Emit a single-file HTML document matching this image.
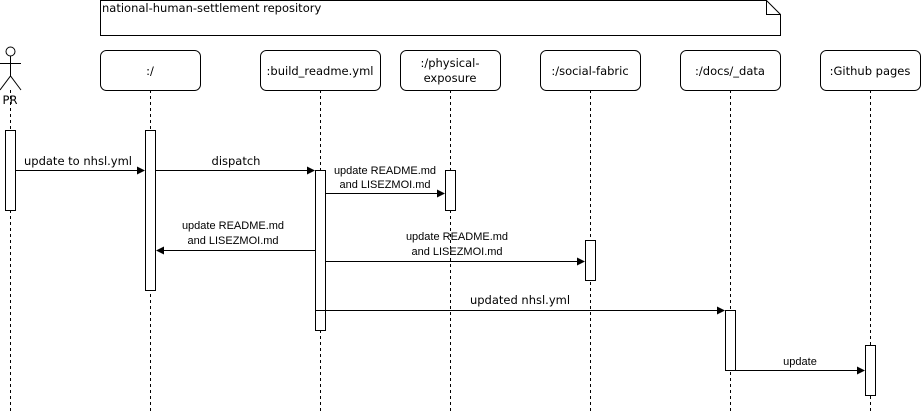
<!DOCTYPE html>
<html><head><style>body{margin:0;background:#fff}svg{display:block}</style></head><body>
<svg width="921" height="411" xmlns="http://www.w3.org/2000/svg" font-family="DejaVu Sans, sans-serif" font-size="11.5">
<g fill="none" stroke="#000" stroke-width="1">
<path d="M100.5 0.5H766.5L780.5 14.5V35.5H100.5Z" fill="#fff"/>
<path d="M766.5 0.5V14.5H780.5"/>
<rect x="100.5" y="50.5" width="100" height="40" rx="6" fill="#fff"/>
<rect x="260.5" y="50.5" width="120" height="40" rx="6" fill="#fff"/>
<rect x="400.5" y="50.5" width="100" height="40" rx="6" fill="#fff"/>
<rect x="540.5" y="50.5" width="100" height="40" rx="6" fill="#fff"/>
<rect x="680.5" y="50.5" width="100" height="40" rx="6" fill="#fff"/>
<rect x="820.5" y="50.5" width="100" height="40" rx="6" fill="#fff"/>
<g stroke-dasharray="3 3">
<path d="M10.5 90V411M150.5 90V411M320.5 90V411M450.5 90V411M590.5 90V411M730.5 90V411M870.5 90V411"/>
</g>
<circle cx="10.5" cy="51.5" r="4.5" fill="#fff"/>
<path d="M10.5 56V76M0 63.5H21M0 90L10.5 76L21 90"/>
<rect x="5.5" y="130.5" width="10" height="80" fill="#fff"/>
<rect x="145.5" y="130.5" width="10" height="160" fill="#fff"/>
<rect x="315.5" y="170.5" width="10" height="160" fill="#fff"/>
<rect x="445.5" y="170.5" width="10" height="40" fill="#fff"/>
<rect x="585.5" y="240.5" width="10" height="40" fill="#fff"/>
<rect x="725.5" y="310.5" width="10" height="60" fill="#fff"/>
<rect x="865.5" y="345.5" width="10" height="50" fill="#fff"/>
<path d="M15.5 170.5H138M155.5 170.5H308M325.5 193.5H438M315.5 250.5H163M325.5 261.5H578M315.5 310.5H718M735.5 370.5H858"/>
</g>
<g fill="#000">
<path d="M145 170.5l-8-4v8zM315 170.5l-8-4v8zM445 193.5l-8-4v8zM156 250.5l8-4v8zM585 261.5l-8-4v8zM725 310.5l-8-4v8zM865 370.5l-8-4v8z"/>
</g>
<g fill="#000" text-anchor="middle">
<text x="102" y="12" text-anchor="start">national-human-settlement repository</text>
<text x="150" y="75">:/</text>
<text x="320" y="75">:build_readme.yml</text>
<text x="450" y="67">:/physical-</text>
<text x="450" y="82">exposure</text>
<text x="590" y="75">:/social-fabric</text>
<text x="730" y="75">:/docs/_data</text>
<text x="870" y="75">:Github pages</text>
<text x="10" y="104">PR</text>
<text x="78" y="165">update to nhsl.yml</text>
<text x="236" y="165">dispatch</text>
<g font-family="Liberation Sans, sans-serif" font-size="11">
<text x="233" y="229">update README.md</text>
<text x="233" y="244">and LISEZMOI.md</text>
<text x="385" y="174">update README.md</text>
<text x="385" y="188">and LISEZMOI.md</text>
<text x="457" y="240">update README.md</text>
<text x="457" y="255">and LISEZMOI.md</text>
<text x="800" y="365">update</text>
</g>
<text x="520" y="304">updated nhsl.yml</text>
</g>
</svg>
</body></html>
